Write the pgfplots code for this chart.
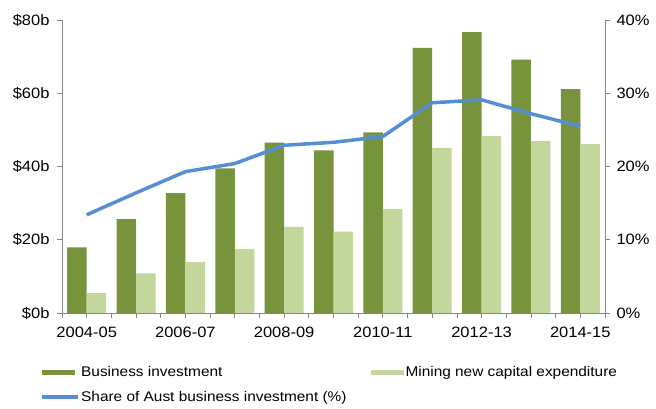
\documentclass[border=0pt]{standalone}
\usepackage{pgfplots}
\pgfplotsset{compat=1.18}
\usepackage{fontspec}
\setmainfont{Liberation Sans}[FakeStretch=1.1]
\definecolor{darkgreen}{HTML}{77933C}
\definecolor{lightgreen}{HTML}{C3D69B}
\definecolor{lineblue}{HTML}{558ED5}
\definecolor{axgray}{HTML}{868686}
\begin{document}
\begin{tikzpicture}
\path[use as bounding box] (0,0) rectangle (656bp,409bp);
\begin{axis}[
  at={(62bp,96bp)}, anchor=south west,
  scale only axis, width=543bp, height=293bp,
  xmin=-0.5, xmax=10.5, ymin=0, ymax=80,
  axis x line*=bottom, axis y line*=left,
  axis line style={axgray, line width=0.8bp},
  ybar=0pt, bar width=19.5bp,
  xtick={0,2,4,6,8,10},
  xticklabels={2004-05,2006-07,2008-09,2010-11,2012-13,2014-15},
  minor xtick={-0.5,0,...,10.5},
  ytick={0,20,40,60,80},
  yticklabels={\$0b,\$20b,\$40b,\$60b,\$80b},
  tick align=outside,
  major tick length=5bp, minor tick length=5bp,
  tick style={axgray, line width=0.8bp},
  every tick label/.append style={font=\fontsize{15bp}{18bp}\selectfont, text=black},
  xticklabel style={yshift=-6bp},
  yticklabel style={xshift=-4bp},
  /pgf/number format/assume math mode=true,
  legend columns=2,
  legend cell align=left,
  legend style={at={(-0.0405,-0.178)}, anchor=north west, draw=none, fill=none,
    inner sep=0pt, font=\fontsize{14bp}{16bp}\selectfont,
    row sep=9.5bp,
    nodes={inner sep=1.5bp}},
]
\addplot[fill=darkgreen, draw=none,
  legend image code/.code={\fill[darkgreen] (0bp,-2.5bp) rectangle (33bp,2.5bp);}]
  coordinates {(0,17.9) (1,25.6) (2,32.7) (3,39.5) (4,46.5) (5,44.4) (6,49.3) (7,72.4) (8,76.7) (9,69.2) (10,61.1)};
\addlegendentry{Business investment}
\addplot[fill=lightgreen, draw=none,
  legend image code/.code={\fill[lightgreen] (0bp,-2.5bp) rectangle (33bp,2.5bp);}]
  coordinates {(0,5.4) (1,10.8) (2,13.9) (3,17.5) (4,23.5) (5,22.2) (6,28.4) (7,45.1) (8,48.3) (9,46.9) (10,46.1)};
\addlegendentry{Mining new capital expenditure}
\addlegendimage{legend image code/.code={\draw[lineblue, line width=3.5bp] (0bp,0bp) -- (36bp,0bp);}}
\addlegendentry{\mbox{Share of Aust business investment (\%)\hspace*{23bp}}}
\end{axis}
\begin{axis}[
  at={(62bp,96bp)}, anchor=south west,
  scale only axis, width=543bp, height=293bp,
  xmin=-0.5, xmax=10.5, ymin=0, ymax=40,
  axis y line*=right, axis x line=none,
  axis line style={axgray, line width=0.8bp},
  ytick={0,10,20,30,40},
  yticklabels={0\%,10\%,20\%,30\%,40\%},
  tick align=outside, major tick length=5bp,
  tick style={axgray, line width=0.8bp},
  every tick label/.append style={font=\fontsize{15bp}{18bp}\selectfont, text=black},
  yticklabel style={xshift=3bp},
]
\addplot[lineblue, line width=3.5bp, line join=round]
  coordinates {(0,13.4) (1,16.4) (2,19.3) (3,20.4) (4,22.9) (5,23.3) (6,24.1) (7,28.7) (8,29.1) (9,27.2) (10,25.5)};
\end{axis}
\end{tikzpicture}
\end{document}
